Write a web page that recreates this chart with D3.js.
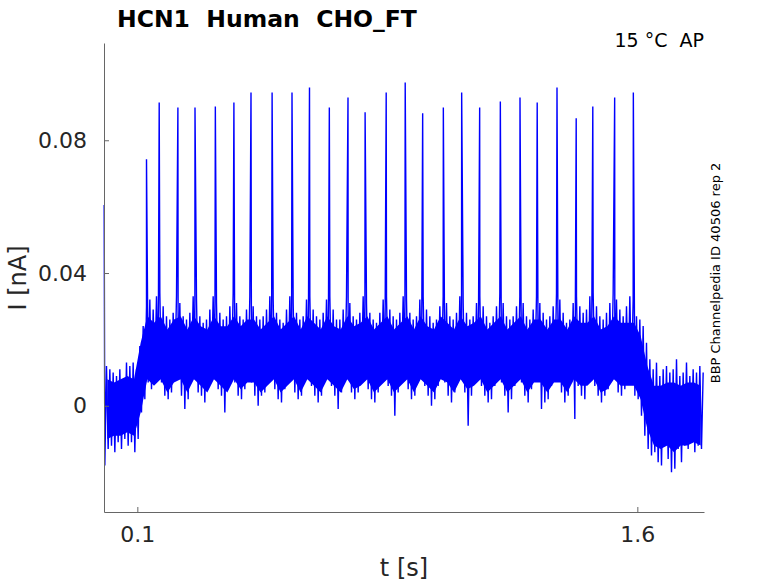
<!DOCTYPE html>
<html>
<head>
<meta charset="utf-8">
<script src="https://cdn.jsdelivr.net/npm/d3@7"></script>
<style>
  body { margin: 0; background: #fff; }
  svg { font-family: "DejaVu Sans", sans-serif; }
</style>
</head>
<body>
<div id="chart-area"></div>
<script>
const binSize = 0.01
const bandLow = [
  -0.018, -0.013, -0.012, -0.014, -0.011, -0.013, -0.010, -0.012, -0.011, -0.014,
  -0.010, -0.002, 0.002, 0.007, 0.005, 0.009, 0.010, 0.007, 0.003, 0.002,
  0.004, 0.009, 0.008, 0.003, -0.001, 0.002, 0.009, 0.008, 0.004, 0.003,
  0.001, 0.005, 0.009, 0.008, 0.005, 0.003, -0.002, 0.005, 0.010, 0.007,
  0.003, 0.002, 0.005, 0.009, 0.007, 0.003, 0.000, 0.003, 0.004, 0.009,
  0.008, 0.005, 0.002, 0.001, 0.005, 0.009, 0.008, 0.004, 0.002, 0.003,
  0.008, 0.009, 0.006, 0.003, 0.001, 0.003, 0.008, 0.009, 0.006, 0.003,
  -0.001, 0.004, 0.009, 0.008, 0.004, 0.002, 0.004, 0.009, 0.008, 0.005,
  0.002, 0.001, 0.004, 0.008, 0.009, 0.006, 0.003, -0.003, 0.004, 0.009,
  0.008, 0.005, 0.002, 0.003, 0.008, 0.009, 0.006, 0.003, 0.000, 0.002,
  0.006, 0.009, 0.007, 0.003, 0.001, 0.004, 0.009, 0.008, 0.004, -0.006,
  0.003, 0.007, 0.009, 0.006, 0.003, 0.001, 0.002, 0.006, 0.009, 0.007,
  0.003, -0.002, 0.002, 0.006, 0.009, 0.007, 0.003, 0.001, 0.005, 0.009,
  0.008, -0.001, 0.001, 0.002, 0.006, 0.009, 0.008, 0.004, 0.001, 0.003,
  0.007, -0.004, 0.006, 0.003, 0.002, 0.007, 0.009, 0.006, 0.003, 0.001,
  0.003, 0.005, 0.009, 0.008, 0.004, 0.003, 0.005, 0.008, 0.008, 0.003,
  0.002, -0.003, -0.009, -0.013, -0.015, -0.014, -0.017, -0.018, -0.012, -0.016,
  -0.020, -0.019, -0.013, -0.017, -0.012, -0.013, -0.011, -0.014, -0.012, -0.013
]
const bandHigh = [
  0.012, 0.011, 0.010, 0.009, 0.011, 0.008, 0.013, 0.012, 0.013, 0.011,
  0.018, 0.024, 0.030, 0.032, 0.029, 0.033, 0.034, 0.030, 0.027, 0.026,
  0.028, 0.033, 0.031, 0.027, 0.026, 0.028, 0.033, 0.032, 0.027, 0.025,
  0.026, 0.029, 0.033, 0.031, 0.028, 0.026, 0.027, 0.030, 0.034, 0.031,
  0.027, 0.026, 0.029, 0.033, 0.030, 0.027, 0.026, 0.027, 0.029, 0.033,
  0.032, 0.028, 0.026, 0.025, 0.029, 0.033, 0.031, 0.028, 0.026, 0.027,
  0.032, 0.033, 0.029, 0.027, 0.026, 0.028, 0.032, 0.033, 0.029, 0.026,
  0.026, 0.029, 0.033, 0.031, 0.027, 0.026, 0.028, 0.033, 0.031, 0.028,
  0.026, 0.025, 0.028, 0.032, 0.033, 0.029, 0.027, 0.026, 0.028, 0.033,
  0.032, 0.028, 0.026, 0.027, 0.032, 0.033, 0.029, 0.027, 0.025, 0.026,
  0.030, 0.033, 0.031, 0.027, 0.026, 0.028, 0.033, 0.031, 0.028, 0.026,
  0.027, 0.031, 0.033, 0.030, 0.027, 0.025, 0.027, 0.030, 0.034, 0.031,
  0.027, 0.026, 0.027, 0.030, 0.033, 0.031, 0.027, 0.026, 0.029, 0.033,
  0.031, 0.028, 0.026, 0.027, 0.030, 0.034, 0.032, 0.028, 0.025, 0.026,
  0.031, 0.033, 0.030, 0.028, 0.029, 0.033, 0.034, 0.030, 0.027, 0.026,
  0.028, 0.031, 0.034, 0.032, 0.029, 0.027, 0.030, 0.033, 0.032, 0.027,
  0.026, 0.024, 0.019, 0.014, 0.011, 0.013, 0.009, 0.011, 0.012, 0.010,
  0.011, 0.014, 0.009, 0.010, 0.013, 0.009, 0.011, 0.010, 0.012, 0.010
]

// dense core of the noise band, 20 ms bins (nA)
const coreSize = 0.02
const coreLow = [
  -0.010, -0.009, -0.009, -0.008, -0.009, -0.002, 0.008, 0.006, 0.008, 0.004,
  0.007, 0.008, 0.004, 0.008, 0.006, 0.004, 0.008, 0.006, 0.004, 0.008,
  0.005, 0.007, 0.007, 0.004, 0.006, 0.008, 0.004, 0.006, 0.008, 0.004,
  0.008, 0.006, 0.004, 0.008, 0.006, 0.004, 0.008, 0.005, 0.006, 0.008,
  0.004, 0.006, 0.008, 0.004, 0.006, 0.008, 0.004, 0.008, 0.006, 0.004,
  0.008, 0.007, 0.004, 0.008, 0.005, 0.006, 0.008, 0.004, 0.006, 0.008,
  0.004, 0.006, 0.008, 0.004, 0.007, 0.007, 0.004, 0.007, 0.007, 0.004,
  0.008, 0.006, 0.006, 0.008, 0.004, 0.005, 0.008, 0.006, 0.006, 0.006,
  0.002, -0.007, -0.012, -0.013, -0.012, -0.014, -0.012, -0.012, -0.011, -0.012
]
const coreHigh = [
  0.008, 0.007, 0.008, 0.009, 0.008, 0.019, 0.027, 0.025, 0.027, 0.023,
  0.026, 0.027, 0.023, 0.027, 0.024, 0.023, 0.027, 0.024, 0.024, 0.027,
  0.024, 0.026, 0.026, 0.023, 0.025, 0.027, 0.023, 0.025, 0.027, 0.023,
  0.027, 0.025, 0.023, 0.027, 0.024, 0.023, 0.027, 0.024, 0.025, 0.027,
  0.023, 0.025, 0.027, 0.023, 0.025, 0.027, 0.023, 0.027, 0.024, 0.023,
  0.027, 0.025, 0.023, 0.027, 0.024, 0.025, 0.027, 0.023, 0.025, 0.027,
  0.023, 0.025, 0.027, 0.023, 0.026, 0.026, 0.023, 0.026, 0.026, 0.023,
  0.027, 0.025, 0.025, 0.027, 0.023, 0.024, 0.027, 0.025, 0.025, 0.025,
  0.021, 0.012, 0.006, 0.006, 0.007, 0.007, 0.006, 0.007, 0.007, 0.006
]

// spikes (s, nA)
const spikeTimes = [0.0005, 0.1275, 0.1656, 0.2217, 0.2730, 0.3340, 0.3897, 0.4410, 0.5043, 0.5640,
  0.6165, 0.6760, 0.7320, 0.7833, 0.8466, 0.9036, 0.9560, 1.0180, 1.0730, 1.1270,
  1.1890, 1.2480, 1.2996, 1.3590, 1.4166, 1.4664, 1.5320, 1.5880]
const spikePeaks = [0.0605, 0.0743, 0.0914, 0.0899, 0.0899, 0.0902, 0.0914, 0.0944, 0.0944, 0.0944,
  0.0959, 0.0899, 0.0929, 0.0884, 0.0944, 0.0974, 0.0881, 0.0899, 0.0944, 0.0899,
  0.0917, 0.0929, 0.0914, 0.0959, 0.0866, 0.0902, 0.0929, 0.0944]

const xTicks = [0.1, 1.6]
const yTicks = [0, 0.04, 0.08]

const MARGIN = { LEFT: 104, RIGHT: 74, TOP: 43, BOTTOM: 71 }
const W = 778, H = 583
const WIDTH = W - MARGIN.LEFT - MARGIN.RIGHT
const HEIGHT = H - MARGIN.TOP - MARGIN.BOTTOM

const svg = d3.select("#chart-area").append("svg")
  .attr("width", W)
  .attr("height", H)

const g = svg.append("g")
  .attr("transform", `translate(${MARGIN.LEFT}, ${MARGIN.TOP})`)

const x = d3.scaleLinear()
  .domain([0, 1.8])
  .range([0, WIDTH])

const y = d3.scaleLinear()
  .domain([-0.032, 0.1093])
  .range([HEIGHT, 0])

// solid core of the band
const area = d3.area()
  .x((d, i) => x(i * coreSize + coreSize / 2))
  .y0((d, i) => y(coreLow[i]))
  .y1(d => y(d))

g.append("path")
  .datum(coreHigh)
  .attr("fill", "#0000ff")
  .attr("d", area)

// trace: min then max of every bin, spikes slotted in by time
let pts = []
bandLow.forEach((lo, i) => {
  pts.push([i * binSize + binSize * 0.25, lo])
  pts.push([i * binSize + binSize * 0.75, bandHigh[i]])
})
spikeTimes.forEach((t, i) => pts.push([t, spikePeaks[i]]))
pts.sort((a, b) => a[0] - b[0])

const line = d3.line()
  .x(d => x(d[0]))
  .y(d => y(d[1]))

g.append("path")
  .datum(pts)
  .attr("fill", "none")
  .attr("stroke", "#0000ff")
  .attr("stroke-width", 1.4)
  .attr("stroke-linejoin", "bevel")
  .attr("d", line)

// axes
const xAxisCall = d3.axisBottom(x).tickValues(xTicks).tickFormat(d3.format(".1f"))
  .tickSizeInner(-5).tickSizeOuter(0).tickPadding(14)
const xAxis = g.append("g")
  .attr("transform", `translate(0, ${HEIGHT})`)
  .call(xAxisCall)

const yAxisCall = d3.axisLeft(y).tickValues(yTicks).tickFormat(d => d === 0 ? "0" : d3.format(".2f")(d))
  .tickSizeInner(-5).tickSizeOuter(0).tickPadding(17)
const yAxis = g.append("g")
  .call(yAxisCall)

g.selectAll(".domain").attr("stroke", "#666")
g.selectAll(".tick line").attr("stroke", "#666")
g.selectAll(".tick text")
  .attr("font-size", "22px")
  .attr("font-family", "DejaVu Sans")
  .attr("fill", "#262626")

// labels
svg.append("text")
  .attr("x", 404)
  .attr("y", 576)
  .attr("text-anchor", "middle")
  .attr("font-size", "24px")
  .attr("fill", "#262626")
  .text("t [s]")

svg.append("text")
  .attr("transform", "translate(26, 278) rotate(-90)")
  .attr("text-anchor", "middle")
  .attr("font-size", "24px")
  .attr("fill", "#262626")
  .text("I [nA]")

svg.append("text")
  .attr("x", 117)
  .attr("y", 27)
  .attr("font-size", "23.5px")
  .attr("font-weight", "bold")
  .attr("fill", "#000")
  .style("white-space", "pre")
  .text("HCN1  Human  CHO_FT")

svg.append("text")
  .attr("x", 704)
  .attr("y", 47)
  .attr("text-anchor", "end")
  .attr("font-size", "19px")
  .attr("fill", "#000")
  .style("white-space", "pre")
  .text("15 °C  AP")

svg.append("text")
  .attr("transform", "translate(720, 273) rotate(-90)")
  .attr("text-anchor", "middle")
  .attr("font-size", "13px")
  .attr("fill", "#000")
  .text("BBP Channelpedia ID 40506 rep 2")
</script>
</body>
</html>
